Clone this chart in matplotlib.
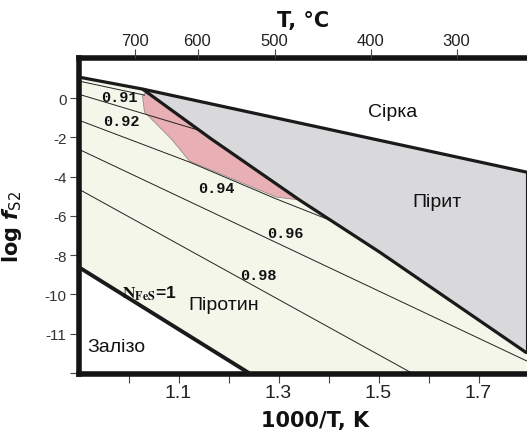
import matplotlib
matplotlib.use("Agg")
import matplotlib.pyplot as plt

# phase boundaries (x = 1000/T, y = log fS2 in plot units)
sulfur_x = [0.90, 1.028, 1.796]
sulfur_y = [1.07, 0.46, -3.77]
pyrite_x = [1.028, 1.166, 1.342, 1.502, 1.796]
pyrite_y = [0.46, -2.09, -5.19, -7.84, -12.97]
fes_x = [0.90, 1.244]
fes_y = [-8.60, -14.05]

# iso-composition lines of pyrrhotite
iso_lines = [
    ([0.90, 1.032], [0.87, 0.15]),
    ([0.90, 1.142], [0.20, -1.65]),
    ([0.90, 1.122, 1.296, 1.408], [-1.12, -3.26, -5.14, -6.27]),
    ([0.90, 1.796], [-2.60, -13.38]),
    ([0.90, 1.57], [-4.63, -14.05]),
]
iso_labels = ["0.91", "0.92", "0.94", "0.96", "0.98"]
iso_lab_x = [0.982, 0.986, 1.176, 1.314, 1.260]
iso_lab_y = [0.05, -1.17, -4.58, -6.87, -9.01]

# pink field
pink_x = [1.028, 1.032, 1.086, 1.122, 1.296, 1.342, 1.166, 1.036]
pink_y = [0.10, -0.71, -2.09, -3.21, -5.04, -5.19, -2.09, 0.31]

# axes ticks
ytick_pos = [0, -2, -4, -6, -8, -10, -12, -14]
ytick_lab = ["0", "-2", "-4", "-6", "-8", "-10", "-11", ""]
xtick_major = [1.1, 1.3, 1.5, 1.7]
xtick_minor = [1.0, 1.2, 1.4, 1.6]
top_pos = [1.012, 1.138, 1.292, 1.484, 1.656]
top_lab = ["700", "600", "500", "400", "300"]

field_names = ["Сірка", "Пірит", "Піротин", "Залізо"]
field_x = [1.528, 1.618, 1.19, 0.976]
field_y = [-0.66, -5.29, -10.53, -12.67]

ymin, ymax = -14.05, 2.04
xmin, xmax = 0.90, 1.80

fig = plt.figure(figsize=(5.27, 4.39), dpi=100)
ax = fig.add_axes([78.5 / 527, (439 - 375) / 439, 450 / 527, 316 / 439])
ax.set_xlim(xmin, xmax)
ax.set_ylim(ymin, ymax)

cream = "#f4f6ea"
grey = "#d9d9dc"
pink = "#e8b0b4"
dark = "#1a1a1a"

# pyrrhotite field
px = sulfur_x[:2] + pyrite_x[1:] + [pyrite_x[-1], fes_x[1]] + fes_x[::-1]
py = sulfur_y[:2] + pyrite_y[1:] + [ymin, ymin] + fes_y[::-1]
ax.fill(px, py, color=cream, lw=0, zorder=1)

# pyrite field
gx = sulfur_x[1:] + pyrite_x[::-1]
gy = sulfur_y[1:] + pyrite_y[::-1]
ax.fill(gx, gy, color=grey, lw=0, zorder=1)

ax.fill(pink_x, pink_y, color=pink, ec="#9a8a8a", lw=0.6, zorder=1.5)

for xs, ys in iso_lines:
    ax.plot(xs, ys, color="#222222", lw=0.7, zorder=2)

ax.plot(sulfur_x, sulfur_y, color=dark, lw=2.3, zorder=3, solid_capstyle="butt")
ax.plot(pyrite_x, pyrite_y, color=dark, lw=2.3, zorder=3, solid_capstyle="butt")
ax.plot([sulfur_x[-1], pyrite_x[-1]], [sulfur_y[-1], pyrite_y[-1]], color=dark, lw=1.5, zorder=3)
ax.plot(fes_x, fes_y, color=dark, lw=2.8, zorder=3, solid_capstyle="butt")

for lab, x, y in zip(iso_labels, iso_lab_x, iso_lab_y):
    ax.text(x, y, lab, family=["Liberation Mono", "DejaVu Sans Mono"], fontweight="bold",
            fontsize=11, ha="center", va="center", color="#111111", zorder=4)

for name, x, y in zip(field_names, field_x, field_y):
    ax.text(x, y, name, family=["Liberation Sans", "DejaVu Sans"], fontsize=14,
            ha="center", va="center", color="#111111", zorder=4)

ax.text(1.042, -9.92, r"$\mathbf{N_{FeS}}$=1", math_fontfamily="stix", fontsize=12.5,
        fontweight="bold", family=["Liberation Sans", "DejaVu Sans"],
        ha="center", va="center", color="#111111", zorder=4)

# spines
for side in ["left", "bottom", "top"]:
    ax.spines[side].set_linewidth(4)
    ax.spines[side].set_color("#141414")
ax.spines["right"].set_visible(False)

tickfont = ["Liberation Sans Narrow", "Liberation Sans", "DejaVu Sans"]
ax.set_yticks(ytick_pos)
ax.set_yticklabels(ytick_lab, family=tickfont, fontsize=11, color="#333333")
ax.set_xticks(xtick_major)
ax.set_xticklabels([str(v) for v in xtick_major], family=tickfont, fontsize=14, color="#222222")
ax.set_xticks(xtick_minor, minor=True)
ax.tick_params(axis="both", which="both", direction="out", length=6.5, width=0.8, color="#444444")
ax.tick_params(axis="x", which="both", pad=1)
ax.tick_params(axis="y", pad=2)

ax.set_xlabel("1000/T, K", fontsize=15, fontweight="bold", color="#111111")
ax.xaxis.set_label_coords(0.526, -0.115)
ax.set_ylabel(r"log $\mathbfit{f}_{\mathrm{S2}}$", fontsize=15, fontweight="bold", color="#111111")
ax.yaxis.set_label_coords(-0.12, 0.47)

ax2 = ax.twiny()
ax2.set_xlim(xmin, xmax)
ax2.set_xticks(top_pos)
ax2.set_xticklabels(top_lab, family=tickfont, fontsize=12, color="#222222")
ax2.tick_params(axis="x", direction="out", length=6.5, width=0.8, color="#444444", pad=1)
for s in ax2.spines.values():
    s.set_visible(False)
ax2.set_xlabel("T, °C", fontsize=15, fontweight="bold", color="#111111")
ax2.xaxis.set_label_coords(0.5, 1.10)

fig.savefig("out.png", dpi=100)
